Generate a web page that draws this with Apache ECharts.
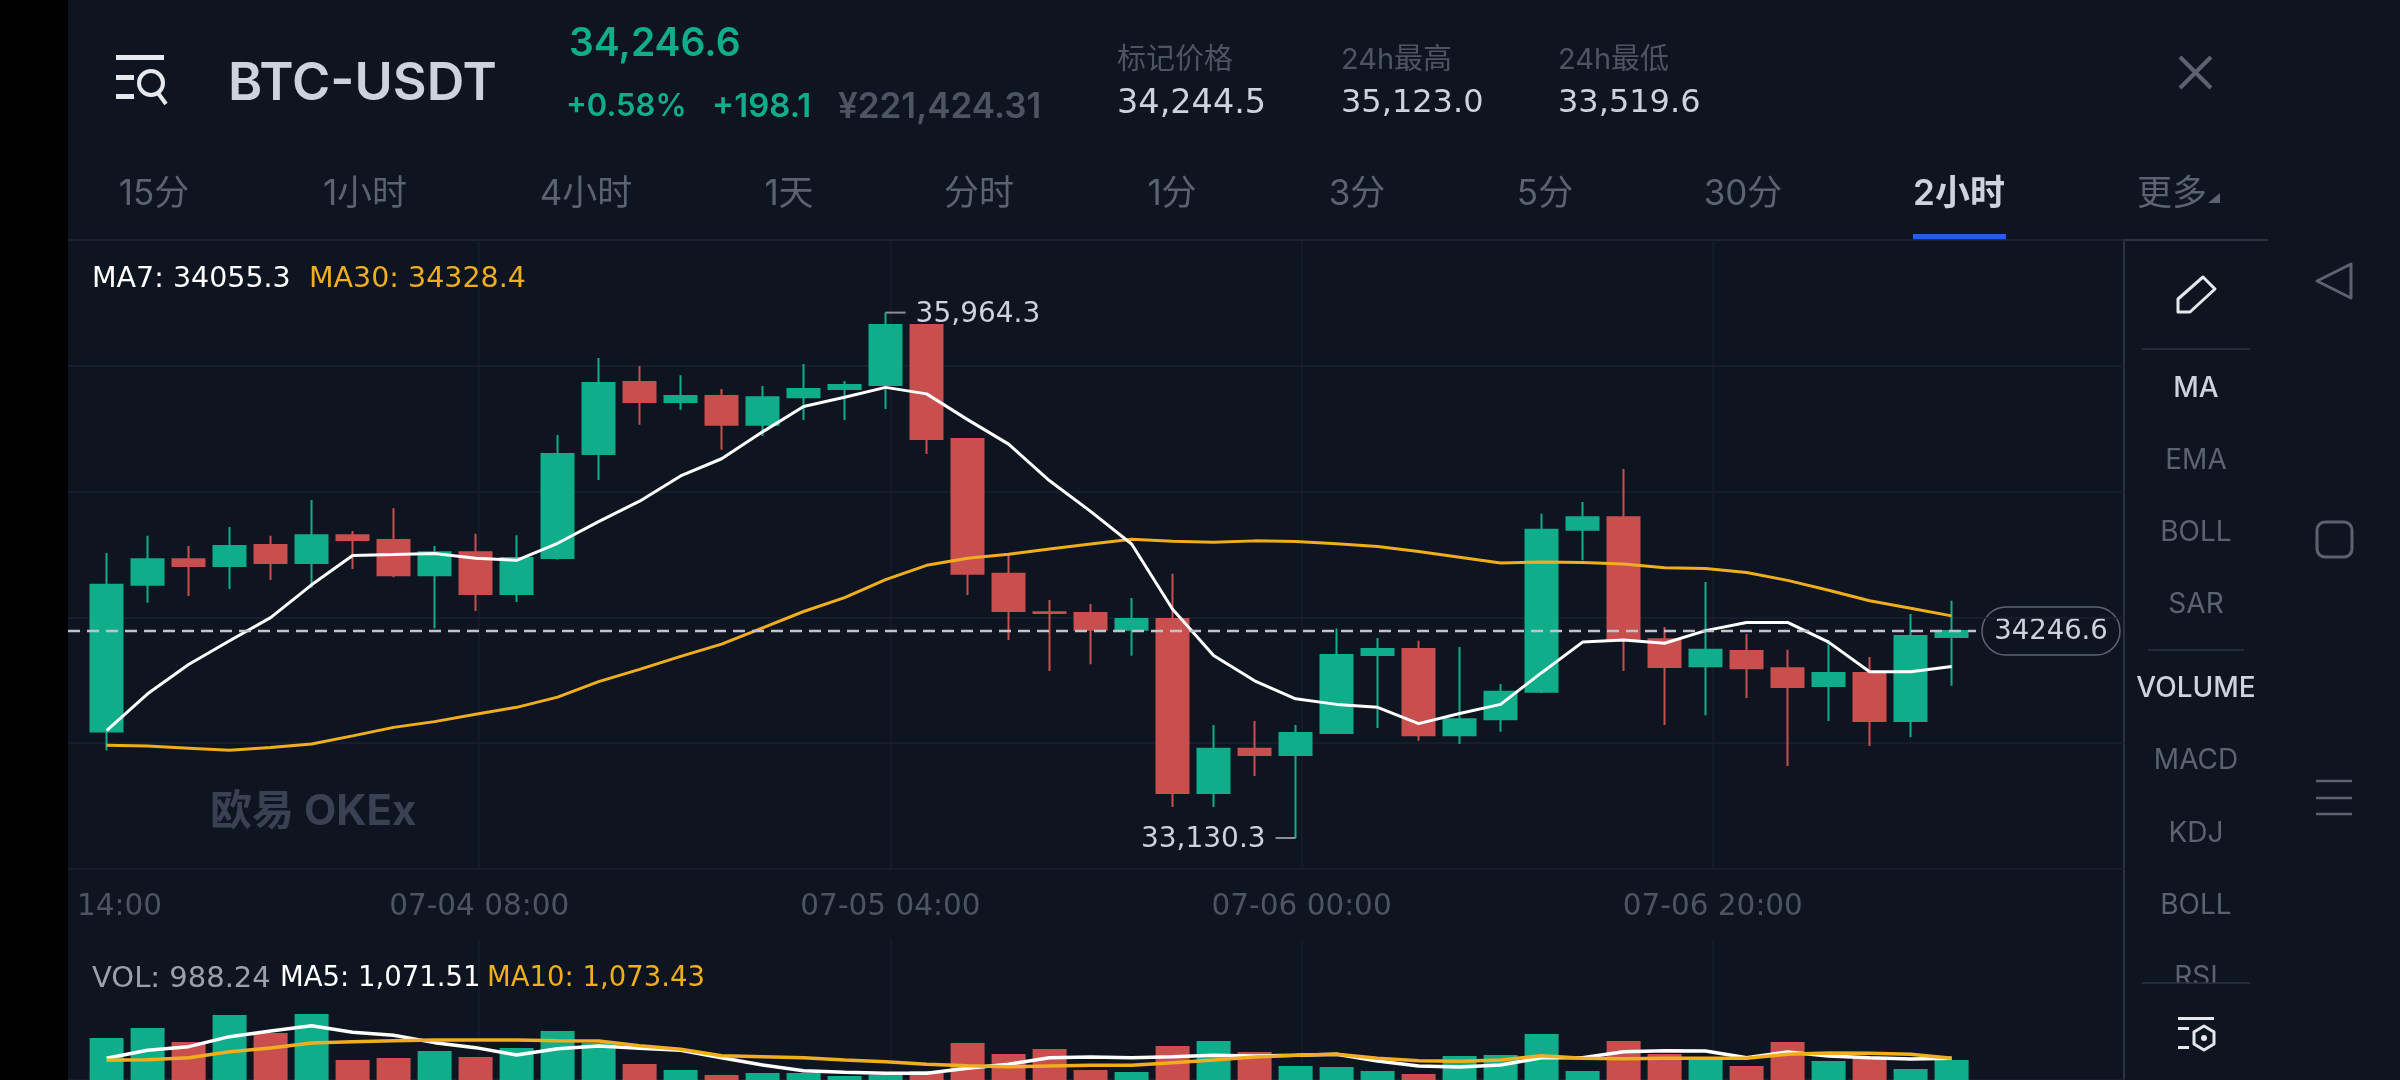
<!DOCTYPE html>
<html>
<head>
<meta charset="utf-8">
<title>BTC-USDT</title>
<script src="https://cdn.jsdelivr.net/npm/echarts@6/dist/echarts.min.js"></script>
<style>
html,body{margin:0;padding:0;background:#0f1520;}
#main{width:2400px;height:1080px;}
</style>
</head>
<body>
<div id="main"></div>
<script>
// 2h candles
var opens = [33705,34496,34634,34597,34711,34614,34764,34738,34548,34672,34447,34641,35202,35590,35482,35515,35359,35508,35552,35574,35898,35282,34555,34348,34344,34253,34311,33373,33611,33578,33696,34117,34150,33685,33771,33919,34793,34861,34203,34057,34139,34046,33950,34020,33762,34214];
var closes = [34496,34634,34597,34705,34614,34764,34738,34548,34672,34447,34641,35202,35585,35482,35515,35359,35508,35552,35574,35898,35282,34555,34355,34344,34253,34311,33373,33611,33578,33696,34117,34150,33685,33771,33919,34793,34861,34203,34053,34146,34046,33945,34020,33762,34220,34246.6];
var lows = [33604,34399,34436,34474,34522,34480,34581,34537,34262,34355,34403,34632,35061,35359,35440,35224,35299,35385,35385,35444,35202,34441,34198,34031,34068,34113,33298,33298,33465,33130.3,33696,33723,33655,33637,33703,33912,34628,34031,33740,33793,33886,33518,33762,33626,33674,33952];
var highs = [34667,34760,34705,34808,34760,34954,34786,34909,34705,34771,34764,35304,35720,35676,35627,35552,35568,35687,35596,35964.3,35898,35282,34661,34414,34392,34425,34555,33740,33762,33740,34260,34209,34194,34161,33961,34879,34943,35121,34269,34511,34231,34146,34198,34106,34339,34410];
var ma7 = [33710,33908,34066,34194,34319,34496,34654,34659,34665,34639,34628,34720,34837,34947,35083,35176,35321,35458,35508,35561,35526,35387,35255,35057,34892,34716,34364,34115,33978,33881,33851,33835,33747,33802,33851,34022,34187,34198,34181,34249,34293,34293,34187,34027,34027,34055.3];
var ma30 = [33630,33626,33615,33604,33619,33637,33681,33727,33758,33798,33835,33890,33974,34040,34110,34176,34264,34352,34427,34524,34601,34639,34661,34689,34716,34742,34731,34725,34733,34729,34718,34703,34676,34645,34614,34619,34617,34608,34588,34584,34562,34520,34467,34410,34370,34328.4];
var volumes = [2075,2569,1878,3212,2322,3261,988,1087,1433,1136,1581,2421,1828,791,494,247,346,346,198,247,445,1828,1285,1532,494,395,1680,1927,1383,692,642,445,296,1186,1235,2273,445,1927,1285,1038,692,1878,939,1103,544,988.24];
var volMa5 = [1071,1466,1647,2141,2421,2685,2355,2207,1845,1598,1235,1548,1680,1565,1466,1103,741,461,379,329,329,576,774,1103,1136,1103,1153,1219,1186,1219,1268,939,692,642,741,1103,1103,1400,1449,1433,1103,1383,1186,1103,1038,1071.51];
var volMa10 = [972,1005,1103,1400,1581,1828,1894,1943,1976,1976,1976,1943,1927,1696,1515,1202,1153,1103,988,906,774,708,659,692,725,725,856,988,1136,1219,1268,1071,955,922,988,1202,1071,1054,1071,1071,1071,1268,1334,1318,1268,1073.43];
var timeLabels = ['14:00','07-04 08:00','07-05 04:00','07-06 00:00','07-06 20:00',''];
var lastPrice = 34246.6;
var highPoint = [19, 35964.3];
var lowPoint = [29, 33130.3];

var categories = [];
for (var i = 0; i < opens.length; i++) {
    categories.push(String(i));
}
var candleData = opens.map(function (o, i) {
    return [o, closes[i], lows[i], highs[i]];
});

var UP = '#10ad8b', DOWN = '#c94f4f', ORANGE = '#f0ae1e', BG = '#0f1520';
var GRID_LINE = '#1a2130', GRID_VLINE = '#171e2b', FRAME_LINE = '#2b3242';
var LIGHT = '#cdd2de', GREY = '#5b6272', DIM = '#4d5463';
var FONT = 'Inter, "Noto Sans CJK SC", sans-serif';
var NUM_FONT = '"DejaVu Sans", "Noto Sans CJK SC", sans-serif';

var volData = volumes.map(function (v, i) {
    return {value: v, itemStyle: {color: closes[i] >= opens[i] ? UP : DOWN}};
});

function txt(x, y, text, size, color, align, weight, family) {
    return {
        type: 'text',
        style: {
            x: x, y: y, text: text, fill: color, fontSize: size, fontFamily: family || FONT,
            fontWeight: weight || 400, textAlign: align || 'left', textVerticalAlign: 'middle'
        }
    };
}
function num(x, y, text, size, color, align) {
    return txt(x, y, text, size, color, align, 400, NUM_FONT);
}
function box(x, y, w, h, color) {
    return {type: 'rect', shape: {x: x, y: y, width: w, height: h}, style: {fill: color}};
}
function seg(x1, y1, x2, y2, color, w) {
    return {type: 'line', shape: {x1: x1, y1: y1, x2: x2, y2: y2}, style: {stroke: color, lineWidth: w || 2}};
}
function poly(pts, color, w) {
    return {type: 'polygon', shape: {points: pts}, style: {fill: 'none', stroke: color, lineWidth: w || 3, lineJoin: 'round'}};
}

var graphics = [
    box(0, 0, 68, 1080, '#000000'),
    seg(68, 240, 2268, 240, FRAME_LINE, 2),
    seg(2124, 240, 2124, 1080, FRAME_LINE, 2),
    // header
    box(116, 55, 48, 5, '#e6e8ee'), box(116, 75, 18, 5, '#e6e8ee'), box(116, 94, 18, 5, '#e6e8ee'),
    {type: 'circle', shape: {cx: 151, cy: 83, r: 12}, style: {fill: 'none', stroke: '#e6e8ee', lineWidth: 4}},
    seg(158, 93, 166, 104, '#e6e8ee', 4),
    txt(228, 84, 'BTC-USDT', 52, LIGHT, 'left', 600),
    txt(569, 44, '34,246.6', 39, UP, 'left', 600),
    txt(566, 107, '+0.58%', 31, UP, 'left', 600),
    txt(712, 107, '+198.1', 33, UP, 'left', 600),
    txt(838, 107, '¥221,424.31', 35, DIM, 'left', 600),
    txt(1117, 60, '标记价格', 29, DIM),
    num(1117, 104, '34,244.5', 33.5, LIGHT),
    txt(1341, 60, '24h最高', 29, DIM),
    num(1341, 104, '35,123.0', 32, LIGHT),
    txt(1558, 60, '24h最低', 29, DIM),
    num(1558, 104, '33,519.6', 32, LIGHT),
    seg(2180, 57, 2211, 88, '#5c6270', 4), seg(2211, 57, 2180, 88, '#5c6270', 4),
    // period tabs
    txt(154, 194, '15分', 35, GREY, 'center'),
    txt(365, 194, '1小时', 35, GREY, 'center'),
    txt(586, 194, '4小时', 35, GREY, 'center'),
    txt(789, 194, '1天', 35, GREY, 'center'),
    txt(979, 194, '分时', 35, GREY, 'center'),
    txt(1172, 194, '1分', 35, GREY, 'center'),
    txt(1357, 194, '3分', 35, GREY, 'center'),
    txt(1545, 194, '5分', 35, GREY, 'center'),
    txt(1743, 194, '30分', 35, GREY, 'center'),
    txt(1959, 194, '2小时', 35, LIGHT, 'center', 600),
    txt(2137, 194, '更多', 35, GREY),
    {type: 'polygon', shape: {points: [[2208, 203], [2220, 203], [2220, 193]]}, style: {fill: GREY}},
    box(1913, 234, 93, 6, '#2260e0'),
    // legends
    num(92, 280, 'MA7: 34055.3', 28.5, '#ffffff'),
    num(309, 280, 'MA30: 34328.4', 28.5, ORANGE),
    num(92, 979, 'VOL: 988.24', 29, '#9ba1ab'),
    num(280, 979, 'MA5: 1,071.51', 27.5, '#ffffff'),
    num(487, 979, 'MA10: 1,073.43', 27.5, ORANGE),
    txt(210, 812, '欧易 OKEx', 42, '#3a4152', 'left', 700),
    // last price badge
    {type: 'rect', shape: {x: 1982, y: 607, width: 138, height: 48, r: 24}, style: {fill: BG, stroke: '#5d6474', lineWidth: 1.5}},
    num(2051, 632, '34246.6', 27.5, LIGHT, 'center'),
    // side toolbar
    poly([[2178, 299], [2203, 277], [2215, 289], [2190, 312], [2178, 312]], '#e6e8ee', 3),
    seg(2142, 349, 2250, 349, FRAME_LINE, 1.5),
    txt(2196, 389, 'MA', 28, LIGHT, 'center', 500),
    txt(2196, 461, 'EMA', 28, GREY, 'center'),
    txt(2196, 533, 'BOLL', 28, GREY, 'center'),
    txt(2196, 605, 'SAR', 28, GREY, 'center'),
    seg(2148, 650, 2244, 650, FRAME_LINE, 1.5),
    txt(2196, 689, 'VOLUME', 28, LIGHT, 'center', 500),
    txt(2196, 761, 'MACD', 28, GREY, 'center'),
    txt(2196, 834, 'KDJ', 28, GREY, 'center'),
    txt(2196, 906, 'BOLL', 28, GREY, 'center'),
    txt(2196, 978, 'RSI', 28, GREY, 'center'),
    box(2126, 983, 240, 97, BG),
    seg(2142, 983, 2250, 983, FRAME_LINE, 1.5),
    box(2178, 1017, 36, 3, '#e6e8ee'), box(2178, 1027, 11, 3, '#e6e8ee'), box(2178, 1046, 11, 3, '#e6e8ee'),
    poly([[2194, 1032], [2204, 1026], [2214, 1032], [2214, 1044], [2204, 1050], [2194, 1044]], '#e6e8ee', 3),
    {type: 'circle', shape: {cx: 2204, cy: 1038, r: 3}, style: {fill: '#e6e8ee'}},
    // system nav bar
    {type: 'polygon', shape: {points: [[2317, 281], [2351, 264], [2351, 298]]}, style: {fill: 'none', stroke: '#5c6270', lineWidth: 3, lineJoin: 'round'}},
    {type: 'rect', shape: {x: 2317, y: 522, width: 35, height: 35, r: 8}, style: {fill: 'none', stroke: '#5c6270', lineWidth: 3}},
    seg(2316, 781, 2352, 781, '#5c6270', 2.5), seg(2316, 798, 2352, 798, '#5c6270', 2.5), seg(2316, 814, 2352, 814, '#5c6270', 2.5)
];

var extremeLabel = {show: true, color: LIGHT, fontFamily: NUM_FONT, fontSize: 28, offset: [0, 2]};

var option = {
    backgroundColor: BG,
    animation: false,
    textStyle: {fontFamily: FONT},
    grid: [
        {left: 68, top: 240, width: 2056, height: 629},
        {left: 86.1, top: 240, width: 1886, height: 629},
        {left: 68, top: 940, width: 2056, height: 140},
        {left: 86.1, top: 945, width: 1886, height: 135}
    ],
    xAxis: [
        {
            type: 'value', gridIndex: 0, min: 0, max: 5, interval: 1,
            axisLine: {show: false}, axisTick: {show: false},
            splitLine: {showMinLine: false, showMaxLine: false, lineStyle: {color: GRID_VLINE, width: 1.5}},
            axisLabel: {
                color: DIM, fontSize: 29.5, fontFamily: NUM_FONT, margin: 24, padding: [0, 9],
                alignMinLabel: 'left',
                formatter: function (v) { return timeLabels[v]; }
            }
        },
        {type: 'category', gridIndex: 1, data: categories, show: false},
        {
            type: 'value', gridIndex: 2, min: 0, max: 5, interval: 1, position: 'top',
            axisLine: {show: true, lineStyle: {color: GRID_LINE, width: 1.5}}, axisTick: {show: false},
            axisLabel: {show: false},
            splitLine: {showMinLine: false, showMaxLine: false, lineStyle: {color: GRID_VLINE, width: 1.5}}
        },
        {type: 'category', gridIndex: 3, data: categories, show: false}
    ],
    yAxis: [
        {
            type: 'value', gridIndex: 0, min: 0, max: 5, interval: 1,
            axisLine: {show: false}, axisTick: {show: false}, axisLabel: {show: false},
            splitLine: {lineStyle: {color: GRID_LINE, width: 1.5}}
        },
        {type: 'value', gridIndex: 0, min: 32963, max: 36356, show: false, splitLine: {show: false}},
        {type: 'value', gridIndex: 1, min: 32963, max: 36356, show: false, splitLine: {show: false}},
        {type: 'value', gridIndex: 3, min: 0, max: 6669, show: false, splitLine: {show: false}},
        {type: 'value', gridIndex: 2, min: 0, max: 1, show: false, splitLine: {show: false}}
    ],
    series: [
        {
            type: 'candlestick', xAxisIndex: 1, yAxisIndex: 2, barWidth: 33, data: candleData, z: 3,
            itemStyle: {color: UP, color0: DOWN, borderColor: UP, borderColor0: DOWN, borderWidth: 2},
            markPoint: {
                silent: true,
                data: [
                    {
                        coord: highPoint, symbol: 'rect', symbolSize: [20, 2], symbolOffset: [10, 0],
                        itemStyle: {color: '#8a8f99'},
                        label: Object.assign({position: 'right', distance: 10, formatter: '35,964.3'}, extremeLabel)
                    },
                    {
                        coord: lowPoint, symbol: 'rect', symbolSize: [20, 2], symbolOffset: [-10, 0],
                        itemStyle: {color: '#8a8f99'},
                        label: Object.assign({position: 'left', distance: 10, formatter: '33,130.3'}, extremeLabel)
                    }
                ]
            }
        },
        {
            type: 'line', xAxisIndex: 1, yAxisIndex: 2, data: ma30, showSymbol: false, z: 4,
            lineStyle: {color: ORANGE, width: 3}
        },
        {
            type: 'line', xAxisIndex: 1, yAxisIndex: 2, data: ma7, showSymbol: false, z: 5,
            lineStyle: {color: '#ffffff', width: 3}
        },
        {
            // last price dashed line, runs up to the badge
            type: 'line', xAxisIndex: 0, yAxisIndex: 1, showSymbol: false, z: 6,
            data: [[0, lastPrice], [4.64, lastPrice]],
            lineStyle: {color: '#bfc3cb', width: 2.5, type: [12, 7]}
        },
        {type: 'bar', xAxisIndex: 3, yAxisIndex: 3, barWidth: 34, data: volData, z: 3},
        {
            type: 'line', xAxisIndex: 3, yAxisIndex: 3, data: volMa5, showSymbol: false, z: 4,
            lineStyle: {color: '#ffffff', width: 3.5}
        },
        {
            type: 'line', xAxisIndex: 3, yAxisIndex: 3, data: volMa10, showSymbol: false, z: 5,
            lineStyle: {color: ORANGE, width: 3.5}
        }
    ],
    graphic: graphics
};

var myChart = echarts.init(document.getElementById('main'));
myChart.setOption(option);
</script>
</body>
</html>
